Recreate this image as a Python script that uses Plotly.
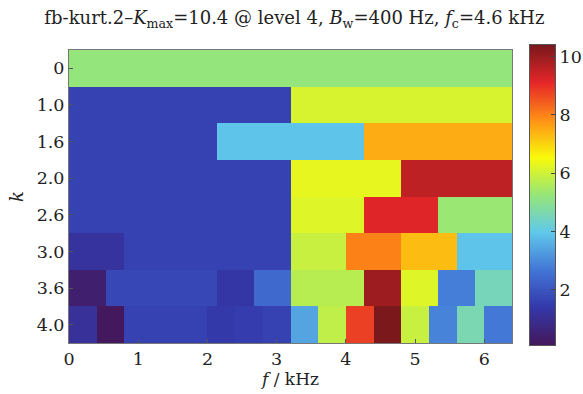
import numpy as np
import plotly.graph_objects as go

# Fast-kurtogram levels (k) and spectral kurtosis per frequency band at each level
levels = ["0", "1.0", "1.6", "2.0", "2.6", "3.0", "3.6", "4.0"]
f_max_khz = 6.4
cbar_ticks = [2, 4, 6, 8, 10]

kurt_0 = [5.2]
kurt_1_0 = [1.6, 6.1]
kurt_1_6 = [1.6, 3.9, 7.5]
kurt_2_0 = [1.6, 1.6, 6.3, 9.6]
kurt_2_6 = [1.6, 1.6, 1.6, 6.2, 9.2, 5.3]
kurt_3_0 = [1.2, 1.6, 1.6, 1.6, 5.9, 8.0, 7.3, 3.9]
kurt_3_6 = [0.4, 1.7, 1.7, 1.7, 1.3, 2.4, 5.7, 5.7, 10.0, 6.2, 2.8, 4.5]
kurt_4_0 = [1.1, 0.1, 1.6, 1.6, 1.6, 1.4, 1.5, 1.6,
            3.4, 5.8, 8.8, 10.4, 5.9, 2.9, 4.6, 2.7]

rows = [kurt_0, kurt_1_0, kurt_1_6, kurt_2_0, kurt_2_6, kurt_3_0, kurt_3_6, kurt_4_0]

# Common fine grid (48 = lcm of band counts) so every level shares one heatmap
n_fine = 48
z = []
for r in rows:
    rep = n_fine // len(r)
    z.append([v for v in r for _ in range(rep)])
x_centers = [(i + 0.5) * f_max_khz / n_fine for i in range(n_fine)]
y_idx = list(range(len(levels)))

k_min = min(min(r) for r in rows)
k_max = max(max(r) for r in rows)

# Jet colormap with the slightly muted tones of a printed figure
jet_print = [
    [0.0, "rgb(68,24,92)"],
    [0.125, "rgb(52,56,170)"],
    [0.25, "rgb(66,118,214)"],
    [0.375, "rgb(96,200,234)"],
    [0.5, "rgb(150,230,120)"],
    [0.625, "rgb(248,250,10)"],
    [0.75, "rgb(255,145,22)"],
    [0.875, "rgb(230,38,40)"],
    [1.0, "rgb(122,24,28)"],
]

serif = "DejaVu Serif"
txt = "#222"
tick_font = dict(family=serif, size=17.5, color=txt)

# Colour-scale strip drawn as its own narrow heatmap panel on the right
scale_vals = np.linspace(k_min, k_max, 300)

fig = go.Figure()
fig.add_trace(
    go.Heatmap(
        x=x_centers,
        y=y_idx,
        z=z,
        colorscale=jet_print,
        zmin=k_min,
        zmax=k_max,
        showscale=False,
        xaxis="x",
        yaxis="y",
    )
)
fig.add_trace(
    go.Heatmap(
        x=[0],
        y=scale_vals,
        z=[[v] for v in scale_vals],
        colorscale=jet_print,
        zmin=k_min,
        zmax=k_max,
        showscale=False,
        hoverinfo="skip",
        xaxis="x2",
        yaxis="y2",
    )
)

W, H = 583, 394
ml, mr, mt, mb = 69, 28, 45, 49
pw, ph = W - ml - mr, H - mt - mb

fig.update_layout(
    width=W,
    height=H,
    margin=dict(l=ml, r=mr, t=mt, b=mb, autoexpand=False),
    paper_bgcolor="white",
    plot_bgcolor="white",
    title=dict(
        text="fb-kurt.2–<i>K</i><sub>max</sub>=10.4 @ level 4, <i>B</i><sub>w</sub>=400 Hz, <i>f</i><sub>c</sub>=4.6 kHz",
        x=0.505,
        xanchor="center",
        y=0.955,
        yanchor="middle",
        font=dict(family=serif, size=18, color=txt),
    ),
    xaxis=dict(
        domain=[0, (512 - ml) / pw],
        range=[0, f_max_khz],
        tickvals=[0, 1, 2, 3, 4, 5, 6],
        ticks="inside",
        ticklen=4,
        tickcolor="#555",
        showline=True,
        linecolor="#777",
        mirror=True,
        showgrid=False,
        zeroline=False,
        tickfont=tick_font,
        title=dict(
            text="<i>f</i> / kHz",
            font=dict(family=serif, size=17, color=txt),
            standoff=3,
        ),
    ),
    yaxis=dict(
        domain=[(H - mb - 343) / ph, (H - mb - 50) / ph],
        range=[len(levels) - 0.5, -0.5],
        tickvals=y_idx,
        ticktext=levels,
        ticks="inside",
        ticklen=4,
        tickcolor="#555",
        showline=True,
        linecolor="#777",
        mirror=True,
        showgrid=False,
        zeroline=False,
        tickfont=tick_font,
        title=dict(
            text="<i>k</i>",
            font=dict(family=serif, size=18, color=txt),
            standoff=8,
        ),
    ),
    xaxis2=dict(
        domain=[(530 - ml) / pw, (555 - ml) / pw],
        range=[-0.5, 0.5],
        anchor="y2",
        showticklabels=False,
        ticks="",
        showline=True,
        linecolor="#555",
        mirror=True,
        showgrid=False,
        zeroline=False,
    ),
    yaxis2=dict(
        domain=[0, 1],
        range=[k_min, k_max],
        anchor="x2",
        side="right",
        tickvals=cbar_ticks,
        ticks="inside",
        ticklen=4,
        tickcolor="#444",
        showline=True,
        linecolor="#555",
        mirror=True,
        showgrid=False,
        zeroline=False,
        tickfont=tick_font,
    ),
)

fig.write_html("out.html")
